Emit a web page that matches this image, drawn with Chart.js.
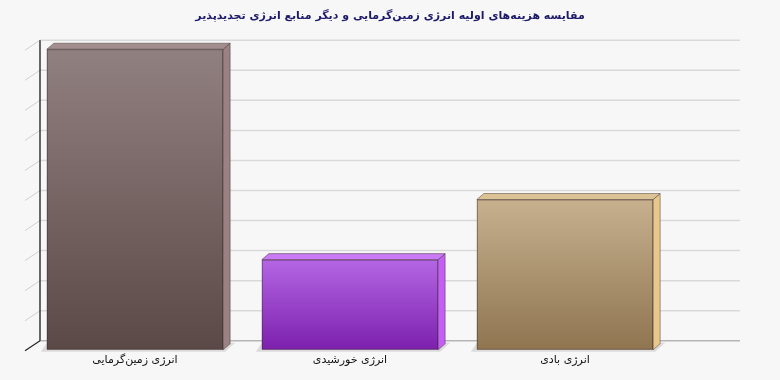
<!DOCTYPE html>
<html>
<head>
<meta charset="utf-8">
<script src="https://cdn.jsdelivr.net/npm/chart.js@4.4.0/dist/chart.umd.min.js"></script>
<style>
  html, body { margin: 0; padding: 0; background: #f7f7f7; }
  #wrap { width: 780px; height: 380px; }
</style>
</head>
<body>
<div id="wrap"><canvas id="graph"></canvas></div>
<script>
const titulo = 'مقایسه هزینه‌های اولیه انرژی زمین‌گرمایی و دیگر منابع انرژی تجدیدپذیر';
const categorias = ['انرژی زمین‌گرمایی', 'انرژی خورشیدی', 'انرژی بادی'];
const valores = [10, 3, 5];

// cores: frente (topo -> base), lateral, tampa
const corTopo = ['#918080', '#b366e3', '#c6b08e'];
const corBase = ['#5b4947', '#7c20ae', '#8f7550'];
const corLado = ['#9b8184', '#c45ef6', '#e9c78c'];
const corTampa = ['#a28e8f', '#c97af4', '#dcc396'];

const PROF = 7;      // profundidade da barra
const PAREDE_X = 15; // deslocamento da parede de fundo
const PAREDE_Y = 9;

// desenha parede de fundo, grade e sombra / faces 3D das barras
const efeito3D = {
  id: 'efeito3D',
  beforeDatasetsDraw(chart) {
    const ctx = chart.ctx;
    const y = chart.scales.y;
    const area = chart.chartArea;
    const x0 = area.left - 2.5;
    const xw = x0 + PAREDE_X;
    const xr = 740;
    ctx.save();
    for (let v = y.min; v <= y.max; v++) {
      const py = y.getPixelForValue(v);
      // parede lateral
      ctx.strokeStyle = v === 0 ? '#222' : '#d0d0d0';
      ctx.lineWidth = v === 0 ? 1.2 : 1;
      ctx.beginPath();
      ctx.moveTo(x0, py + 1);
      ctx.lineTo(xw, py - PAREDE_Y);
      ctx.stroke();
      // parede de fundo
      ctx.strokeStyle = v === 0 ? '#b5b5b5' : '#d9d9d9';
      ctx.lineWidth = 1.5;
      ctx.beginPath();
      ctx.moveTo(xw, py - PAREDE_Y);
      ctx.lineTo(xr, py - PAREDE_Y);
      ctx.stroke();
    }
    // eixo vertical
    ctx.strokeStyle = '#1a1a1a';
    ctx.lineWidth = 1.3;
    ctx.beginPath();
    ctx.moveTo(xw, y.getPixelForValue(y.max) - PAREDE_Y);
    ctx.lineTo(xw, y.getPixelForValue(0) - PAREDE_Y);
    ctx.stroke();

    // sombras no chão
    const meta = chart.getDatasetMeta(0);
    meta.data.forEach(bar => {
      const l = bar.x - bar.width / 2, r = bar.x + bar.width / 2, b = bar.base;
      ctx.fillStyle = 'rgba(0,0,0,0.11)';
      ctx.beginPath();
      ctx.moveTo(l - 6, b + 2);
      ctx.lineTo(r + 2, b + 2);
      ctx.lineTo(r + PROF + 5, b - PROF);
      ctx.lineTo(l, b - PROF);
      ctx.closePath();
      ctx.fill();
    });
    ctx.restore();
  },
  afterDatasetsDraw(chart) {
    const ctx = chart.ctx;
    const meta = chart.getDatasetMeta(0);
    ctx.save();
    meta.data.forEach((bar, i) => {
      const l = bar.x - bar.width / 2, r = bar.x + bar.width / 2;
      const t = bar.y, b = bar.base;
      ctx.lineWidth = 1;
      ctx.strokeStyle = 'rgba(60,40,40,0.45)';
      // lateral
      ctx.fillStyle = corLado[i];
      ctx.beginPath();
      ctx.moveTo(r, t);
      ctx.lineTo(r + PROF, t - PROF + 1);
      ctx.lineTo(r + PROF, b - PROF + 1);
      ctx.lineTo(r, b);
      ctx.closePath();
      ctx.fill();
      ctx.stroke();
      // tampa
      ctx.fillStyle = corTampa[i];
      ctx.beginPath();
      ctx.moveTo(l, t);
      ctx.lineTo(l + PROF, t - PROF + 1);
      ctx.lineTo(r + PROF, t - PROF + 1);
      ctx.lineTo(r, t);
      ctx.closePath();
      ctx.fill();
      ctx.stroke();
      // contorno da frente
      ctx.strokeRect(l + 0.5, t + 0.5, r - l - 1, b - t - 1);
    });
    ctx.restore();
  }
};

const degradeBarra = (c) => {
  const chart = c.chart;
  const i = c.dataIndex;
  if (!chart.chartArea) return corBase[i];
  const y = chart.scales.y;
  const g = chart.ctx.createLinearGradient(0, y.getPixelForValue(valores[i]), 0, y.getPixelForValue(0));
  g.addColorStop(0, corTopo[i]);
  g.addColorStop(1, corBase[i]);
  return g;
};

new Chart(document.getElementById('graph').getContext('2d'), {
  type: 'bar',
  data: {
    labels: categorias,
    datasets: [{
      data: valores,
      backgroundColor: degradeBarra,
      borderWidth: 0,
      categoryPercentage: 1,
      barPercentage: 0.82
    }]
  },
  plugins: [efeito3D],
  options: {
    responsive: true,
    maintainAspectRatio: false,
    animation: false,
    layout: { padding: { left: 0, right: 0, top: 0, bottom: 9 } },
    plugins: {
      legend: { display: false },
      tooltip: { enabled: false },
      title: {
        display: true,
        text: titulo,
        color: '#1c1a6a',
        font: { family: 'DejaVu Sans', size: 11, weight: 'bold' },
        padding: { top: 10, bottom: 26 }
      }
    },
    scales: {
      x: {
        grid: { display: false, drawTicks: false },
        border: { display: false },
        ticks: {
          color: '#111',
          padding: 4,
          font: { family: 'DejaVu Sans', size: 11 }
        }
      },
      y: {
        position: 'left',
        min: 0,
        max: 10,
        grid: { display: false, drawTicks: false },
        border: { display: false },
        ticks: { display: false },
        afterFit: s => { s.width = 27.5; }
      },
      espaco: {
        position: 'right',
        min: 0,
        max: 10,
        grid: { display: false, drawTicks: false },
        border: { display: false },
        ticks: { display: false },
        afterFit: s => { s.width = 107.5; }
      }
    }
  }
});
</script>
</body>
</html>
